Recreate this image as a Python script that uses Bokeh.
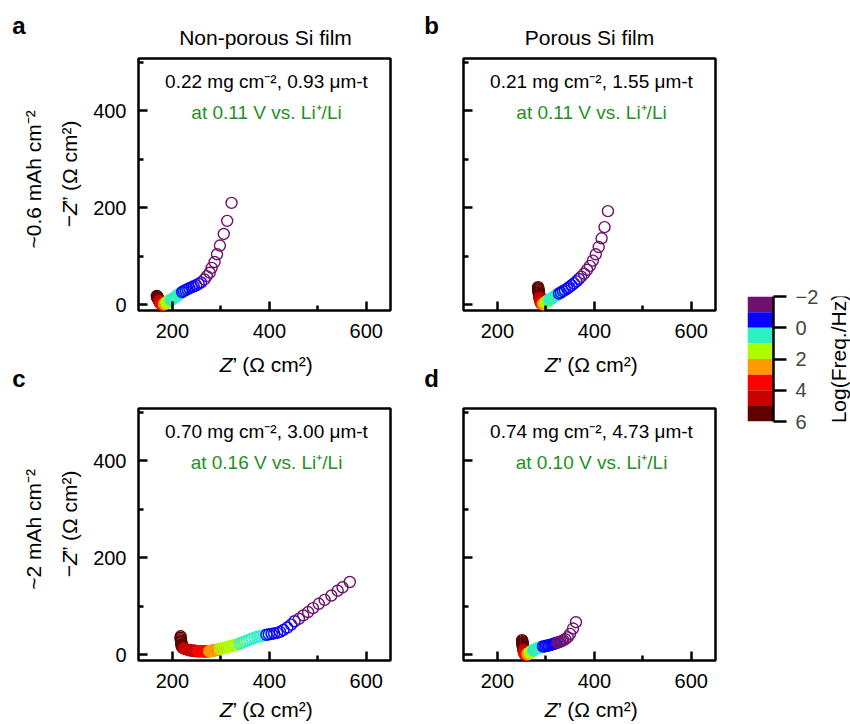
from bokeh.plotting import figure
from bokeh.models import Range1d, FixedTicker, Label, ColumnDataSource
from bokeh.layouts import row, column
from bokeh.transform import linear_cmap
from bokeh.embed import file_html
from bokeh.resources import INLINE
import math

FONT = "Liberation Sans"
GREEN = "#1f8f1f"

# colour bins of Log(Freq./Hz), low (-2) to high (6)
PALETTE = ["#6e106e", "#0a00ff", "#2ef0c6", "#aaff00", "#ff9900", "#ff0000", "#c80000", "#5e0000"]
CB_LO = [-2, -1, 0, 1, 2, 3, 4, 5]
CB_HI = [-1, 0, 1, 2, 3, 4, 5, 6]
CB_TICKS = [-2, 0, 2, 4, 6]

# log10 of frequency for every measured point (high -> low)
LOGF = [6.0, 5.9, 5.8, 5.7, 5.6, 5.5, 5.4, 5.3, 5.2, 5.1, 5.0,
        4.9, 4.8, 4.7, 4.6, 4.5, 4.4, 4.3, 4.2, 4.1, 4.0,
        3.9, 3.8, 3.7, 3.6, 3.5, 3.4, 3.3, 3.2, 3.1, 3.0,
        2.9, 2.8, 2.7, 2.6, 2.5, 2.4, 2.3, 2.2, 2.1, 2.0,
        1.9, 1.8, 1.7, 1.6, 1.5, 1.4, 1.3, 1.2, 1.1, 1.0,
        0.9, 0.8, 0.7, 0.6, 0.5, 0.4, 0.3, 0.2, 0.1, 0.0,
        -0.1, -0.2, -0.3, -0.4, -0.5, -0.6, -0.7, -0.8, -0.9, -1.0,
        -1.1, -1.2, -1.3, -1.4, -1.5, -1.6, -1.7, -1.8, -1.9, -2.0]

# panel a: non-porous, ~0.6 mAh cm-2
ZRE_A = [168, 168, 169, 169, 169, 170, 170, 171, 171, 172, 172,
         173, 173, 174, 174, 175, 175, 176, 176, 177, 177,
         178, 178, 179, 179, 180, 180, 181, 181, 182, 182,
         183, 183, 184, 184, 185, 185, 186, 186, 187, 187,
         188, 188, 189, 190, 191, 191, 192, 193, 194, 195,
         197, 199, 201, 203, 205, 207, 209, 212, 214, 217,
         220, 223, 227, 231, 235, 240, 244, 249, 254, 259,
         266, 271, 277, 281, 287, 292, 298, 306, 313, 322]
ZIM_A = [18, 17, 16, 15, 14, 13, 13, 12, 11, 10, 9,
         8, 7, 6, 5, 4, 3, 3, 2, 2, 1,
         1, 1, 0, 0, 0, 0, 0, 0, 1, 1,
         1, 1, 2, 2, 2, 3, 3, 3, 4, 4,
         4, 5, 5, 6, 6, 7, 7, 8, 9, 9,
         10, 11, 12, 14, 15, 17, 18, 20, 22, 24,
         26, 28, 30, 32, 34, 36, 38, 40, 43, 46,
         52, 59, 66, 76, 88, 104, 122, 146, 173, 210]

# panel b: porous, ~0.6 mAh cm-2
ZRE_B = [284, 284, 284, 285, 285, 285, 285, 286, 286, 286, 287,
         287, 287, 288, 288, 288, 289, 289, 289, 290, 290,
         290, 291, 291, 291, 292, 292, 292, 293, 293, 294,
         294, 295, 295, 296, 296, 297, 297, 298, 298, 299,
         299, 300, 300, 301, 302, 302, 303, 304, 305, 306,
         307, 308, 310, 311, 313, 315, 317, 319, 321, 324,
         327, 331, 335, 339, 344, 348, 353, 358, 363, 368,
         373, 379, 385, 391, 397, 403, 409, 415, 421, 428]
ZIM_B = [36, 34, 32, 30, 28, 26, 24, 22, 20, 18, 16,
         14, 12, 11, 10, 9, 8, 7, 6, 5, 4,
         4, 3, 3, 2, 2, 2, 1, 1, 1, 1,
         1, 1, 1, 2, 2, 2, 3, 3, 3, 4,
         4, 5, 5, 6, 6, 7, 7, 8, 8, 9,
         10, 11, 12, 13, 14, 15, 16, 18, 19, 21,
         23, 25, 28, 30, 33, 36, 40, 44, 48, 53,
         58, 64, 72, 80, 91, 104, 119, 137, 160, 193]

# panel c: non-porous, ~2 mAh cm-2
ZRE_C = [217, 217, 217, 218, 218, 218, 219, 219, 219, 220, 221,
         223, 226, 229, 232, 235, 238, 241, 244, 247, 250,
         253, 256, 259, 262, 264, 266, 268, 270, 272, 274,
         276, 278, 280, 282, 284, 286, 288, 290, 292, 295,
         298, 302, 306, 310, 314, 318, 322, 326, 330, 334,
         339, 344, 349, 354, 359, 364, 370, 376, 382, 388,
         394, 399, 405, 410, 416, 422, 429, 437, 445, 452,
         461, 470, 480, 490, 502, 514, 528, 541, 551, 566]
ZIM_C = [38, 35, 32, 29, 27, 25, 22, 20, 18, 16, 14,
         13, 12, 11, 10, 9, 9, 8, 8, 8, 7,
         7, 7, 7, 7, 7, 7, 7, 7, 7, 7,
         7, 7, 8, 8, 8, 9, 9, 10, 10, 11,
         12, 13, 14, 15, 16, 17, 18, 19, 20, 21,
         23, 25, 27, 29, 31, 33, 35, 37, 38, 40,
         41, 42, 43, 44, 45, 47, 51, 56, 62, 69,
         74, 81, 88, 96, 105, 113, 122, 132, 139, 150]

# panel d: porous, ~2 mAh cm-2
ZRE_D = [251, 251, 251, 252, 252, 252, 252, 253, 253, 253, 254,
         254, 254, 255, 255, 255, 256, 256, 256, 257, 257,
         257, 258, 258, 259, 259, 260, 260, 261, 261, 262,
         262, 263, 263, 264, 264, 265, 265, 266, 266, 267,
         267, 268, 268, 269, 270, 270, 271, 272, 272, 273,
         274, 276, 278, 280, 282, 284, 286, 288, 290, 292,
         294, 297, 300, 303, 306, 309, 312, 315, 318, 321,
         324, 327, 330, 333, 336, 340, 345, 350, 356, 362]
ZIM_D = [30, 28, 26, 24, 22, 20, 18, 16, 14, 12, 10,
         9, 8, 7, 6, 5, 4, 3, 2, 2, 1,
         1, 0, 0, 0, 0, 0, 0, 0, 1, 1,
         1, 1, 2, 2, 2, 3, 3, 3, 4, 4,
         4, 5, 5, 6, 6, 7, 7, 8, 8, 9,
         9, 10, 11, 12, 13, 14, 14, 15, 15, 16,
         17, 17, 18, 19, 19, 20, 21, 22, 23, 24,
         25, 26, 27, 28, 30, 32, 36, 43, 54, 67]

X_TICKS = [200, 400, 600]
X_MINOR = [300, 500]
Y_TICKS = [0, 200, 400]
Y_MINOR = [100, 300, 500]

TITLES = ["Non-porous Si film", "Porous Si film"]
LETTERS = ["a", "b", "c", "d"]
LINE1 = ["0.22 mg cm\u207b\u00b2, 0.93 \u03bcm-t", "0.21 mg cm\u207b\u00b2, 1.55 \u03bcm-t",
         "0.70 mg cm\u207b\u00b2, 3.00 \u03bcm-t", "0.74 mg cm\u207b\u00b2, 4.73 \u03bcm-t"]
LINE2 = ["at 0.11 V vs. Li\u207a/Li", "at 0.11 V vs. Li\u207a/Li",
         "at 0.16 V vs. Li\u207a/Li", "at 0.10 V vs. Li\u207a/Li"]
CAPACITY = ["~0.6 mAh cm\u207b\u00b2", "~2 mAh cm\u207b\u00b2"]
XLABEL_REST = "\u2019 (\u03a9 cm\u00b2)"
YLABEL_REST = "\u201d (\u03a9 cm\u00b2)"

A90 = math.pi / 2


def lab(p, x, y, text, size="20px", color="black", style="normal",
        align="center", angle=0.0, units="data"):
    p.add_layout(Label(x=x, y=y, x_units=units, y_units=units, text=text,
                       text_font=FONT, text_font_size=size, text_color=color,
                       text_font_style=style, text_align=align,
                       text_baseline="middle", angle=angle))


def text_fig(w, h):
    f = figure(width=w, height=h, x_range=Range1d(0, w), y_range=Range1d(h, 0),
               min_border=0, x_axis_location=None, y_axis_location=None,
               output_backend="svg", toolbar_location=None)
    f.grid.visible = False
    f.outline_line_color = None
    return f


def make_panel(k, zre, zim, left, right, bottom, ylabels):
    p = figure(frame_width=252, frame_height=252,
               min_border_left=left, min_border_right=right,
               min_border_top=8, min_border_bottom=bottom,
               x_range=Range1d(130, 650), y_range=Range1d(-12, 508),
               output_backend="svg", toolbar_location=None)
    p.grid.visible = False
    p.outline_line_color = "black"
    p.outline_line_width = 2.5
    p.xaxis.ticker = FixedTicker(ticks=X_TICKS, minor_ticks=X_MINOR)
    p.yaxis.ticker = FixedTicker(ticks=Y_TICKS, minor_ticks=Y_MINOR)
    for ax in (p.xaxis, p.yaxis):
        ax.axis_line_color = None
        ax.major_tick_in = 9
        ax.major_tick_out = 0
        ax.minor_tick_in = 5
        ax.minor_tick_out = 0
        ax.major_tick_line_width = 2.5
        ax.minor_tick_line_width = 2.5
        ax.major_label_text_font = FONT
        ax.major_label_text_font_size = "20px"
        ax.major_label_text_color = "black"
    p.xaxis.major_label_standoff = 13
    p.yaxis.major_label_standoff = 12
    if not ylabels:
        p.yaxis.major_label_overrides = {t: "" for t in Y_TICKS}

    src = ColumnDataSource(dict(x=zre, y=zim, f=LOGF))
    p.scatter("x", "y", source=src, marker="circle", size=11, fill_color=None,
              line_color=linear_cmap("f", PALETTE, -2, 6), line_width=1.4)

    lab(p, 128, 229, LINE1[k], size="19px", units="screen")
    lab(p, 128, 198, LINE2[k], size="19px", color=GREEN, units="screen")
    return p


def ylabel_fig(h, cap):
    f = text_fig(90, h)
    cy = 142  # centre of the label, measured down from this figure's top
    bottom = cy + 54
    a = bottom - 12.3
    lab(f, 68.5, a, "\u2212", size="21px", align="right", angle=A90)
    lab(f, 68.5, a, "Z", size="21px", style="italic", align="left", angle=A90)
    lab(f, 68.5, a - 13.0, YLABEL_REST, size="21px", align="left", angle=A90)
    lab(f, 33, cy, cap, size="21px", align="center", angle=A90)
    return f


def xlabel_row(h, y, letters, letter_y):
    f = text_fig(730, h)
    for zx in (232, 557):
        lab(f, zx, y, "Z", size="21px", style="italic", align="right")
        lab(f, zx, y, XLABEL_REST, size="21px", align="left")
    if letters:
        lab(f, 18.5, letter_y, letters[0], size="24px", style="bold")
        lab(f, 431, letter_y, letters[1], size="24px", style="bold")
    return f


# title row
top = text_fig(730, 50)
lab(top, 18.5, 25, LETTERS[0], size="24px", style="bold")
lab(top, 431, 25, LETTERS[1], size="24px", style="bold")
lab(top, 265, 37, TITLES[0], size="21px")
lab(top, 589, 37, TITLES[1], size="21px")

pa = make_panel(0, ZRE_A, ZIM_A, 47, 20, 36, True)
pb = make_panel(1, ZRE_B, ZIM_B, 53, 16, 36, False)
pc = make_panel(2, ZRE_C, ZIM_C, 47, 20, 36, True)
pd = make_panel(3, ZRE_D, ZIM_D, 53, 16, 36, False)

yla = ylabel_fig(296, CAPACITY[0])
ylc = ylabel_fig(296, CAPACITY[1])

mid = xlabel_row(54, 18, LETTERS[2:], 32)
bot = xlabel_row(26, 13, None, 0)

# colour bar
cb = figure(frame_width=26, frame_height=125, min_border_left=16, min_border_right=54,
            min_border_top=296, min_border_bottom=301,
            x_range=Range1d(0, 1), y_range=Range1d(6, -2), y_axis_location="right",
            x_axis_location=None, output_backend="svg", toolbar_location=None)
cb.grid.visible = False
cb.outline_line_color = None
cb.quad(left=0, right=1, bottom=CB_LO, top=CB_HI, fill_color=PALETTE, line_color=None)
cb.yaxis.ticker = FixedTicker(ticks=CB_TICKS, minor_ticks=[])
cb.yaxis.axis_line_width = 2.5
cb.yaxis.major_tick_line_width = 2.5
cb.yaxis.major_tick_in = 0
cb.yaxis.major_tick_out = 13
cb.yaxis.minor_tick_line_color = None
cb.yaxis.major_label_standoff = 9
cb.yaxis.major_label_text_font = FONT
cb.yaxis.major_label_text_font_size = "20px"
cb.yaxis.major_label_overrides = {-2: "\u22122"}

cbl = text_fig(24, 722)
lab(cbl, 11, 358.5, "Log(Freq./Hz)", size="21px", angle=A90)

left_block = column(top, row(yla, pa, pb), mid, row(ylc, pc, pd), bot)
layout = row(left_block, cb, cbl)
open("out.html", "w").write(file_html(layout, INLINE))
